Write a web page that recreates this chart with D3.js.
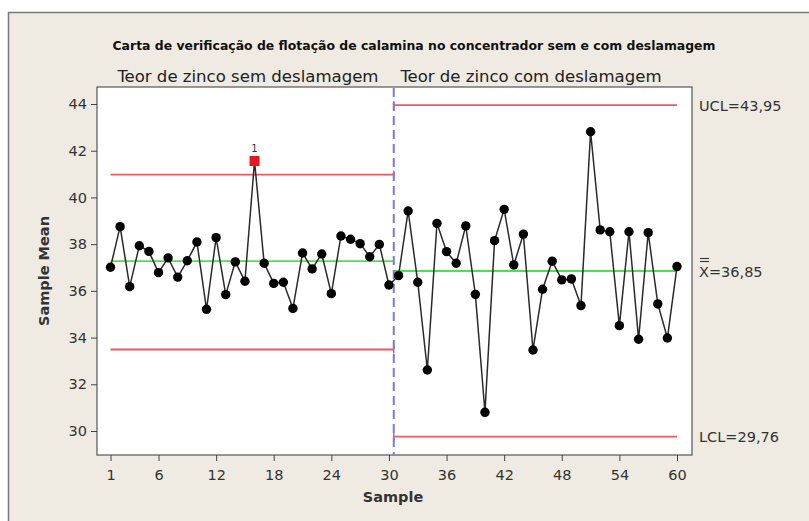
<!DOCTYPE html>
<html><head><meta charset="utf-8">
<script src="https://cdn.jsdelivr.net/npm/d3@7/dist/d3.min.js"></script>
<style>html,body{margin:0;padding:0;background:#fff;}svg{display:block;}</style>
</head><body>
<svg id="c" width="809" height="521"></svg>
<script>
const title = "Carta de verificação de flotação de calamina no concentrador sem e com deslamagem";
const stageNames = ["Teor de zinco sem deslamagem", "Teor de zinco com deslamagem"];
const samples = d3.range(1, 61);
const means = [
 37.01, 38.75, 36.18, 37.93, 37.69, 36.78, 37.41, 36.59, 37.29, 38.09,
 35.21, 38.28, 35.84, 37.24, 36.41, 41.56, 37.18, 36.32, 36.37, 35.25,
 37.62, 36.94, 37.58, 35.88, 38.35, 38.21, 38.02, 37.46, 37.99, 36.25,
 36.65, 39.42, 36.37, 32.61, 38.89, 37.68, 37.18, 38.78, 35.85, 30.80,
 38.15, 39.49, 37.11, 38.43, 33.47, 36.07, 37.27, 36.47, 36.51, 35.37,
 42.81, 38.61, 38.53, 34.51, 38.53, 33.93, 38.49, 35.44, 33.98, 37.04
];
const stageStart = [1, 31];
const stageEnd = [30, 60];
const UCL = [40.98, 43.95];
const CL = [37.27, 36.85];
const LCL = [33.49, 29.76];
const flagged = [16];
const xTicks = [1, 6, 12, 18, 24, 30, 36, 42, 48, 54, 60];
const yTicks = [30, 32, 34, 36, 38, 40, 42, 44];
const limitLabels = ["UCL=43,95", "X=36,85", "LCL=29,76"];

const svg = d3.select("#c");
const font = "DejaVu Sans, Verdana, sans-serif";
const txt = "#333";

// outer frame
svg.append("rect").attr("x", 8.5).attr("y", 12.5).attr("width", 830).attr("height", 540)
  .attr("fill", "#efebe3").attr("stroke", "#7a7a7a").attr("stroke-width", 1.5);

const box = {l: 97, t: 87, r: 692, b: 455};
const x = d3.scaleLinear().domain([1, 60]).range([110.5, 677]);
const y = d3.scaleLinear().domain([30, 44]).range([431, 104]);

svg.append("rect").attr("x", box.l).attr("y", box.t).attr("width", box.r - box.l).attr("height", box.b - box.t)
  .attr("fill", "#fff").attr("stroke", "#555").attr("stroke-width", 1.2);

// title
svg.append("text").attr("x", 414).attr("y", 50).attr("text-anchor", "middle")
  .attr("font-family", "DejaVu Sans Condensed, DejaVu Sans, sans-serif").attr("font-weight", "bold")
  .attr("font-size", 11.5).attr("fill", "#111").attr("textLength", 603).attr("lengthAdjust", "spacingAndGlyphs")
  .text(title);

// stage names
const stageCenters = [248, 531];
stageNames.forEach((s, i) => {
  svg.append("text").attr("x", stageCenters[i]).attr("y", 82).attr("text-anchor", "middle")
    .attr("font-family", "DejaVu Sans Condensed, DejaVu Sans, sans-serif").attr("font-size", 15.5)
    .attr("fill", "#222").attr("textLength", 261).attr("lengthAdjust", "spacingAndGlyphs").text(s);
});

// axes
const yAxis = d3.axisLeft(y).tickValues(yTicks).tickSize(6).tickPadding(4);
const gy = svg.append("g").attr("transform", `translate(${box.l},0)`).call(yAxis);
gy.select(".domain").remove();
gy.selectAll("line").attr("stroke", "#444");
gy.selectAll("text").attr("font-family", font).attr("font-size", 14.5).attr("fill", txt);

const xAxis = d3.axisBottom(x).tickValues(xTicks).tickSize(6).tickPadding(9);
const gx = svg.append("g").attr("transform", `translate(0,${box.b})`).call(xAxis);
gx.select(".domain").remove();
gx.selectAll("line").attr("stroke", "#444");
gx.selectAll("text").attr("font-family", font).attr("font-size", 14.5).attr("fill", txt);

svg.append("text").attr("x", 393).attr("y", 502).attr("text-anchor", "middle")
  .attr("font-family", font).attr("font-weight", "bold").attr("font-size", 14.5).attr("fill", txt).text("Sample");
svg.append("text").attr("transform", "translate(49,271) rotate(-90)").attr("text-anchor", "middle")
  .attr("font-family", font).attr("font-weight", "bold").attr("font-size", 14.5).attr("fill", txt).text("Sample Mean");

// limit lines
const divX = x(30.5);
const red = "#ec5b63", green = "#4fe04f";
[0, 1].forEach(i => {
  const xa = i === 0 ? x(stageStart[0]) : divX;
  const xb = i === 0 ? divX : x(stageEnd[1]);
  [[UCL[i], red], [LCL[i], red], [CL[i], green]].forEach(([v, col]) => {
    svg.append("line").attr("x1", xa).attr("x2", xb).attr("y1", y(v)).attr("y2", y(v))
      .attr("stroke", col).attr("stroke-width", 1.8);
  });
  [UCL[i], LCL[i]].forEach(v => {
    svg.append("line").attr("x1", divX).attr("x2", divX).attr("y1", y(v) - 4).attr("y2", y(v) + 4)
      .attr("stroke", red).attr("stroke-width", 1.5);
  });
});

// stage divider
svg.append("line").attr("x1", divX).attr("x2", divX).attr("y1", box.t + 1).attr("y2", box.b)
  .attr("stroke", "#7878e0").attr("stroke-width", 2).attr("stroke-dasharray", "9,5");

// data line
const pts = samples.map((s, i) => ({s, v: means[i]}));
svg.append("path").datum(pts)
  .attr("d", d3.line().x(d => x(d.s)).y(d => y(d.v)))
  .attr("fill", "none").attr("stroke", "#2a2a2a").attr("stroke-width", 1.5);

svg.selectAll("circle.pt").data(pts.filter(d => !flagged.includes(d.s))).join("circle")
  .attr("class", "pt").attr("cx", d => x(d.s)).attr("cy", d => y(d.v)).attr("r", 4.7).attr("fill", "#000");

const fl = pts.filter(d => flagged.includes(d.s));
svg.selectAll("rect.fl").data(fl).join("rect").attr("class", "fl")
  .attr("x", d => x(d.s) - 5).attr("y", d => y(d.v) - 5).attr("width", 10).attr("height", 10).attr("fill", "#e8161f");
svg.selectAll("text.fl").data(fl).join("text").attr("class", "fl")
  .attr("x", d => x(d.s)).attr("y", d => y(d.v) - 9).attr("text-anchor", "middle")
  .attr("font-family", font).attr("font-size", 10).attr("fill", "#333").text("1");

// right labels
const labVals = [UCL[1], CL[1], LCL[1]];
limitLabels.forEach((t, i) => {
  svg.append("text").attr("x", 699).attr("y", y(labVals[i]) + 5.5)
    .attr("font-family", font).attr("font-size", 14.5).attr("fill", txt).text(t);
});
// double bar over X
[0, 3].forEach(dy => {
  svg.append("line").attr("x1", 700).attr("x2", 709).attr("y1", y(CL[1]) - 9.5 - dy).attr("y2", y(CL[1]) - 9.5 - dy)
    .attr("stroke", txt).attr("stroke-width", 1.1);
});
</script>
</body></html>
